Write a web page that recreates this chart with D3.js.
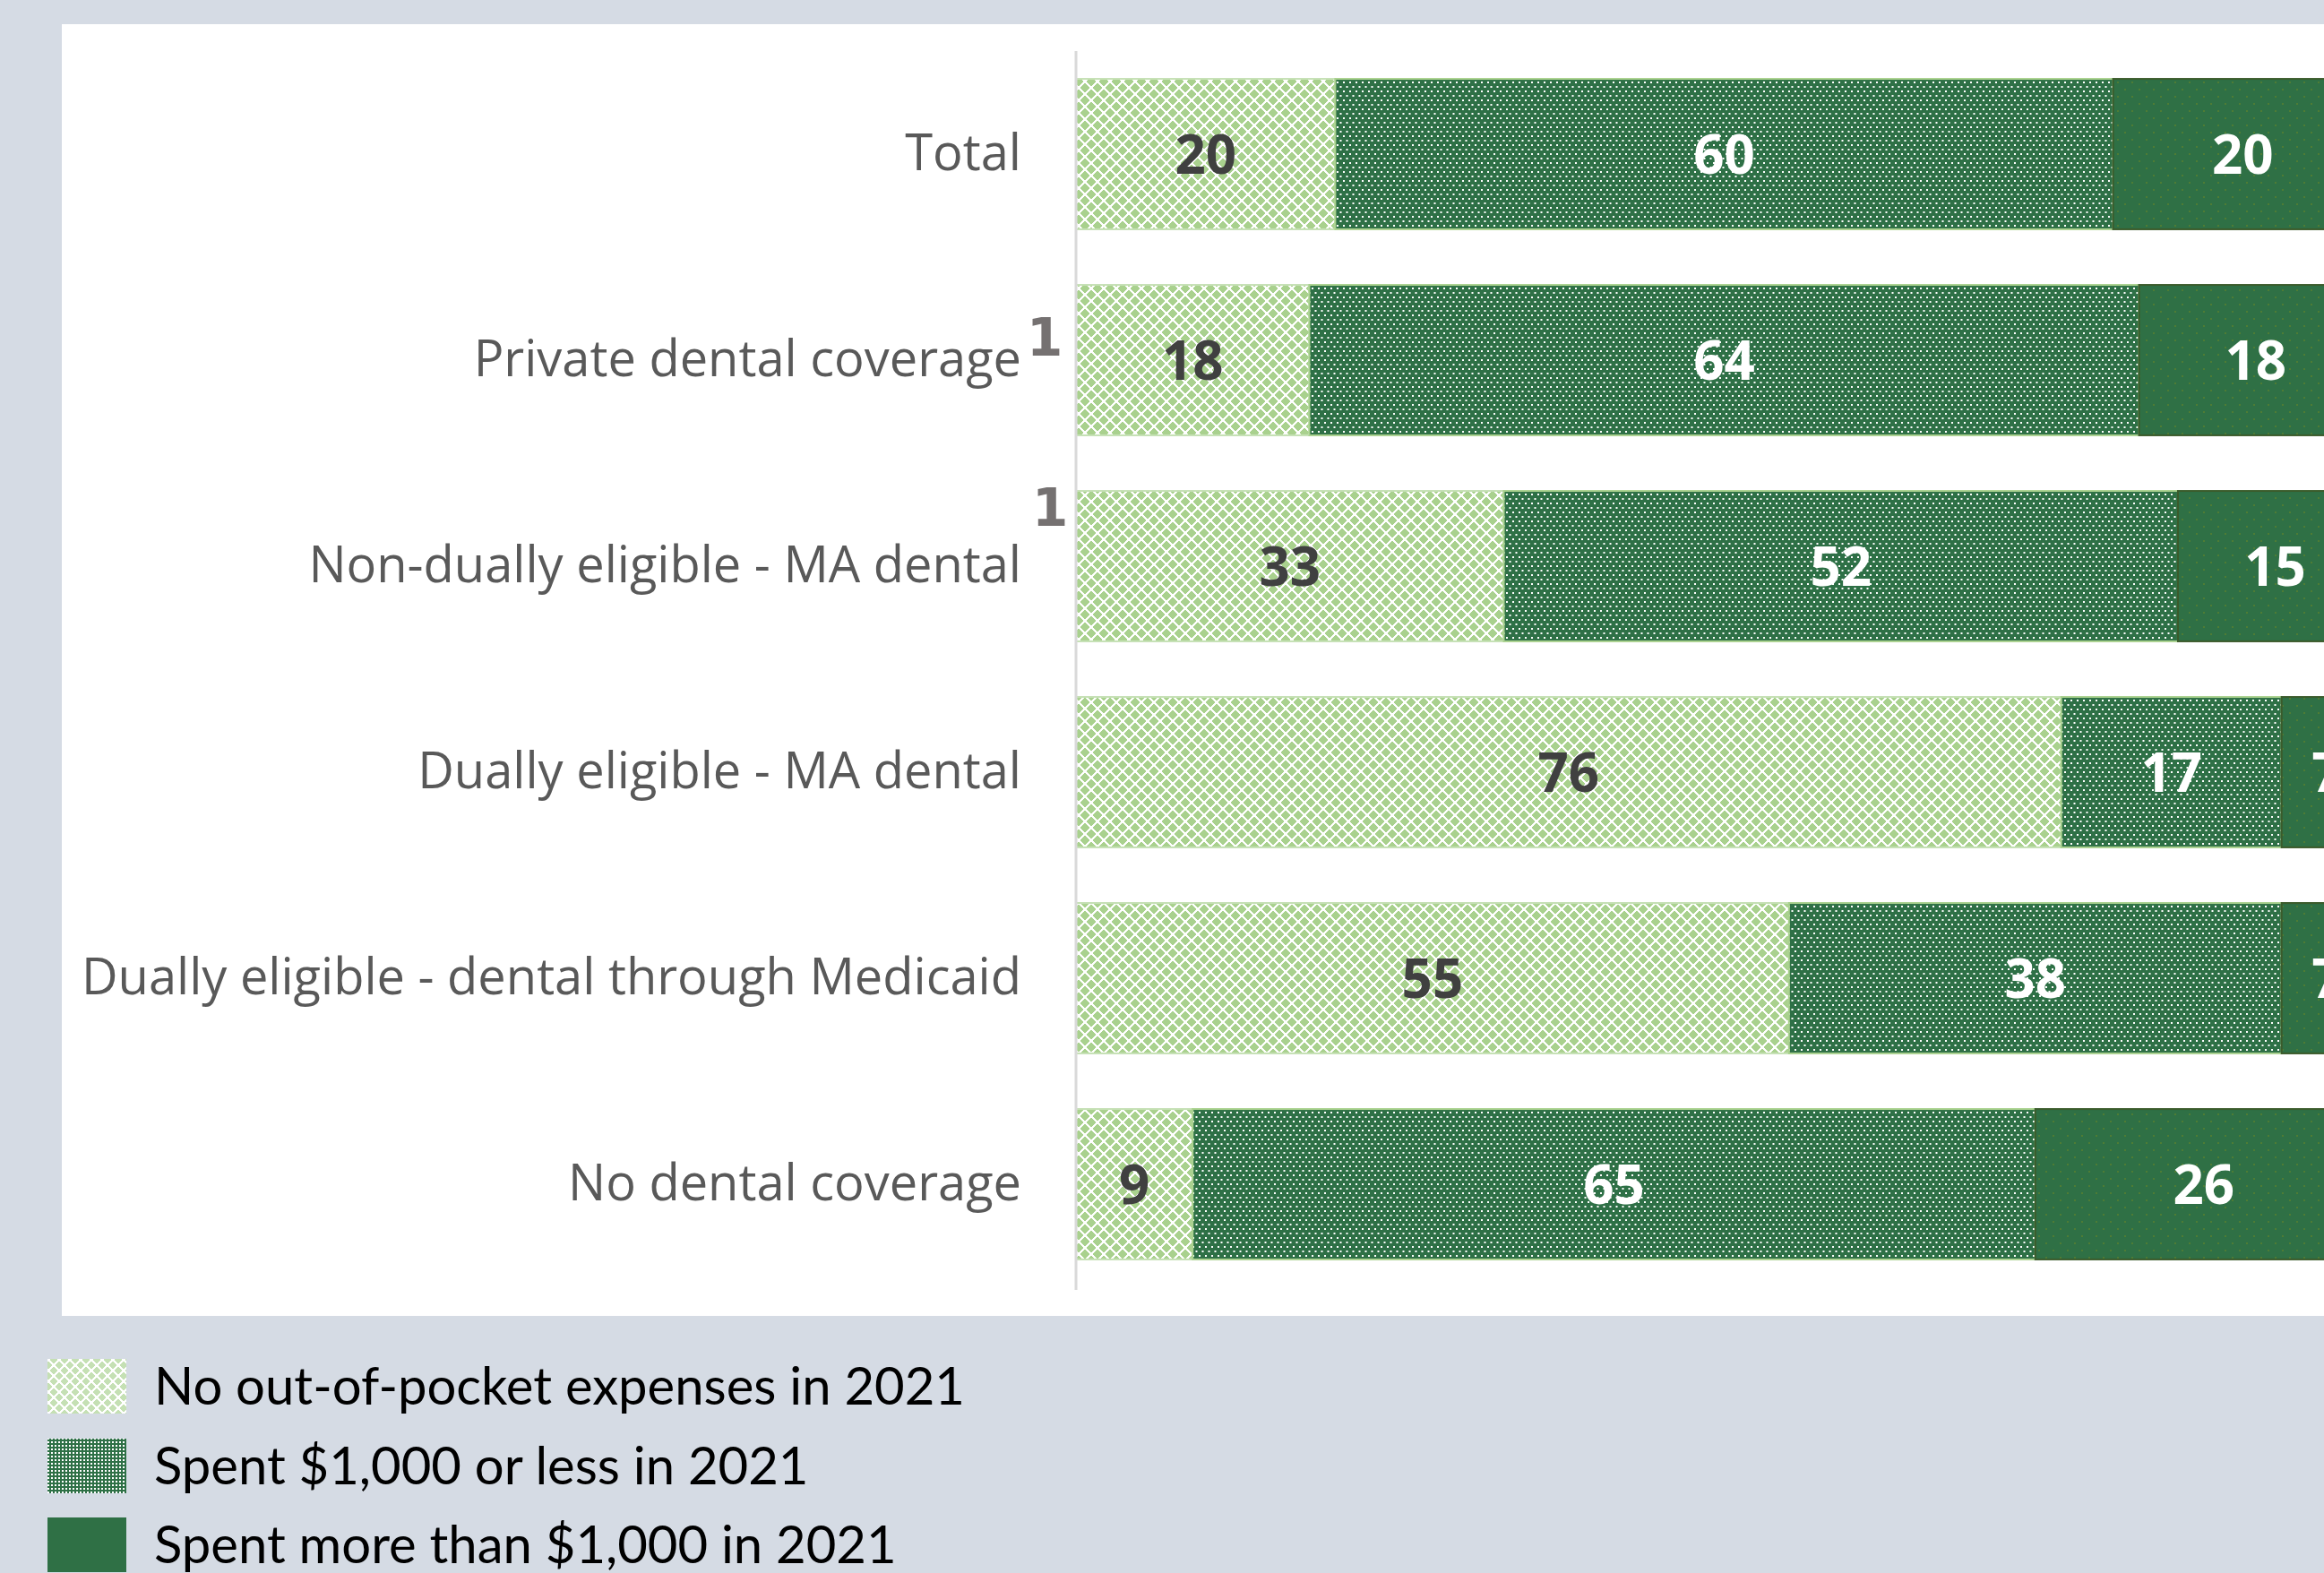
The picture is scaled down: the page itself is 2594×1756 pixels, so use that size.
<!DOCTYPE html>
<html>
<head>
<meta charset="utf-8">
<script src="https://cdn.jsdelivr.net/npm/d3@7"></script>
<style>
  html, body { margin: 0; padding: 0; background: #d5dbe4; }
  svg { display: block; }
</style>
</head>
<body>
<svg id="chart" width="2594" height="1756"></svg>
<script>
// ---- data ----
const categories = [
  "Total",
  "Private dental coverage",
  "Non-dually eligible - MA dental",
  "Dually eligible - MA dental",
  "Dually eligible - dental through Medicaid",
  "No dental coverage"
];
const seriesNames = [
  "No out-of-pocket expenses in 2021",
  "Spent $1,000 or less in 2021",
  "Spent more than $1,000 in 2021"
];
const noExpense   = [20, 18, 33, 76, 55, 9];
const under1000   = [60, 64, 52, 17, 38, 65];
const over1000    = [20, 18, 15, 7, 7, 26];
const footnoteMarks = ["", "1", "1", "", "", ""];

// ---- layout ----
const W = 2594, H = 1756;
const svg = d3.select("#chart");
const defs = svg.append("defs");

// patterns
function diamondPattern(id, size, bg) {
  const p = defs.append("pattern").attr("id", id).attr("patternUnits", "userSpaceOnUse")
    .attr("width", size).attr("height", size);
  p.append("rect").attr("width", size).attr("height", size).attr("fill", bg);
  p.append("path").attr("d", `M0,0L${size},${size}M${size},0L0,${size}`)
    .attr("stroke", "#ffffff").attr("stroke-width", 2).attr("shape-rendering", "crispEdges");
}
function dotPattern(id, w, h, bg, dot, dotColor, offsets) {
  const p = defs.append("pattern").attr("id", id).attr("patternUnits", "userSpaceOnUse")
    .attr("width", w).attr("height", h);
  p.append("rect").attr("width", w).attr("height", h).attr("fill", bg);
  offsets.forEach(o => p.append("rect").attr("x", o[0]).attr("y", o[1])
    .attr("width", dot).attr("height", dot).attr("fill", dotColor));
}
diamondPattern("pLight", 14, "#a9d18e");
dotPattern("pMid", 7, 10, "#2e7046", 2, "#ffffff", [[1, 1], [4.5, 6]]);
dotPattern("pDark", 16, 16, "#2f7045", 2, "#4e7c35", [[3, 3], [11, 11]]);
diamondPattern("pLightLeg", 12, "#c5e0b4");
dotPattern("pMidLeg", 4, 4, "#2e7046", 2, "#ffffff", [[1, 1]]);

const fills = ["url(#pLight)", "url(#pMid)", "url(#pDark)"];
const strokes = ["#c5e0b4", "#a9d18e", "#3b5b2b"];
const labelColors = ["#404040", "#ffffff", "#ffffff"];
const legendFills = ["url(#pLightLeg)", "url(#pMidLeg)", "#2f7045"];

// background + panel
svg.append("rect").attr("width", W).attr("height", H).attr("fill", "#d5dbe4");
svg.append("rect").attr("x", 69).attr("y", 27).attr("width", W).attr("height", 1442).attr("fill", "#ffffff");

const x = d3.scaleLinear().domain([0, 100]).range([1201, 2648]);
const y = d3.scaleBand().domain(categories).range([57, 1437]).paddingInner(0.27).paddingOuter(0.135);

const rows = categories.map((c, i) => ({ cat: c, vals: [noExpense[i], under1000[i], over1000[i]], mark: footnoteMarks[i] }));
const stacked = d3.stack().keys([0, 1, 2]).value((d, k) => d.vals[k])(rows);

const g = svg.append("g");
stacked.forEach((layer, k) => {
  g.append("g").selectAll("rect").data(layer).join("rect")
    .attr("x", d => x(d[0]))
    .attr("y", d => y(d.data.cat))
    .attr("width", d => x(d[1]) - x(d[0]))
    .attr("height", y.bandwidth())
    .attr("fill", fills[k])
    .attr("stroke", strokes[k])
    .attr("stroke-width", 2);
});
stacked.forEach((layer, k) => {
  g.append("g").selectAll("text").data(layer).join("text")
    .attr("x", d => (x(d[0]) + x(d[1])) / 2)
    .attr("y", d => y(d.data.cat) + y.bandwidth() / 2)
    .attr("dy", "0.36em")
    .attr("text-anchor", "middle")
    .attr("font-family", "'Open Sans', sans-serif")
    .attr("font-weight", 700)
    .attr("font-size", 60)
    .attr("fill", labelColors[k])
    .text(d => d[1] - d[0]);
});

// category axis
const yAxis = d3.axisLeft(y).tickSize(0).tickPadding(61);
const ax = svg.append("g").attr("transform", `translate(${x(0)},0)`).call(yAxis);
ax.select(".domain").attr("stroke", "#d9d9d9").attr("stroke-width", 3)
  .attr("d", `M0,${y.range()[0]}V1440`);
ax.selectAll(".tick text")
  .attr("font-family", "'Open Sans', sans-serif")
  .attr("font-size", 56)
  .attr("fill", "#595959");

// footnote marks
const markPos = { "Private dental coverage": [1146, -5], "Non-dually eligible - MA dental": [1152, -45] };
svg.append("g").selectAll("text").data(rows.filter(r => r.mark)).join("text")
  .attr("x", d => markPos[d.cat][0])
  .attr("y", d => y(d.cat) + y.bandwidth() / 2 + markPos[d.cat][1])
  .attr("font-family", "'DejaVu Sans', sans-serif")
  .attr("font-weight", 700)
  .attr("font-size", 58)
  .attr("fill", "#757171")
  .text(d => d.mark);

// legend
const legendTop = [1517, 1606, 1694];
const leg = svg.append("g");
seriesNames.forEach((name, k) => {
  leg.append("rect").attr("x", 53).attr("y", legendTop[k]).attr("width", 88).attr("height", 61)
    .attr("fill", legendFills[k]);
  leg.append("text").attr("x", 172).attr("y", legendTop[k] + 51)
    .attr("font-family", "Lato, sans-serif").attr("font-size", 58).attr("fill", "#000000")
    .text(name);
});
</script>
</body>
</html>
